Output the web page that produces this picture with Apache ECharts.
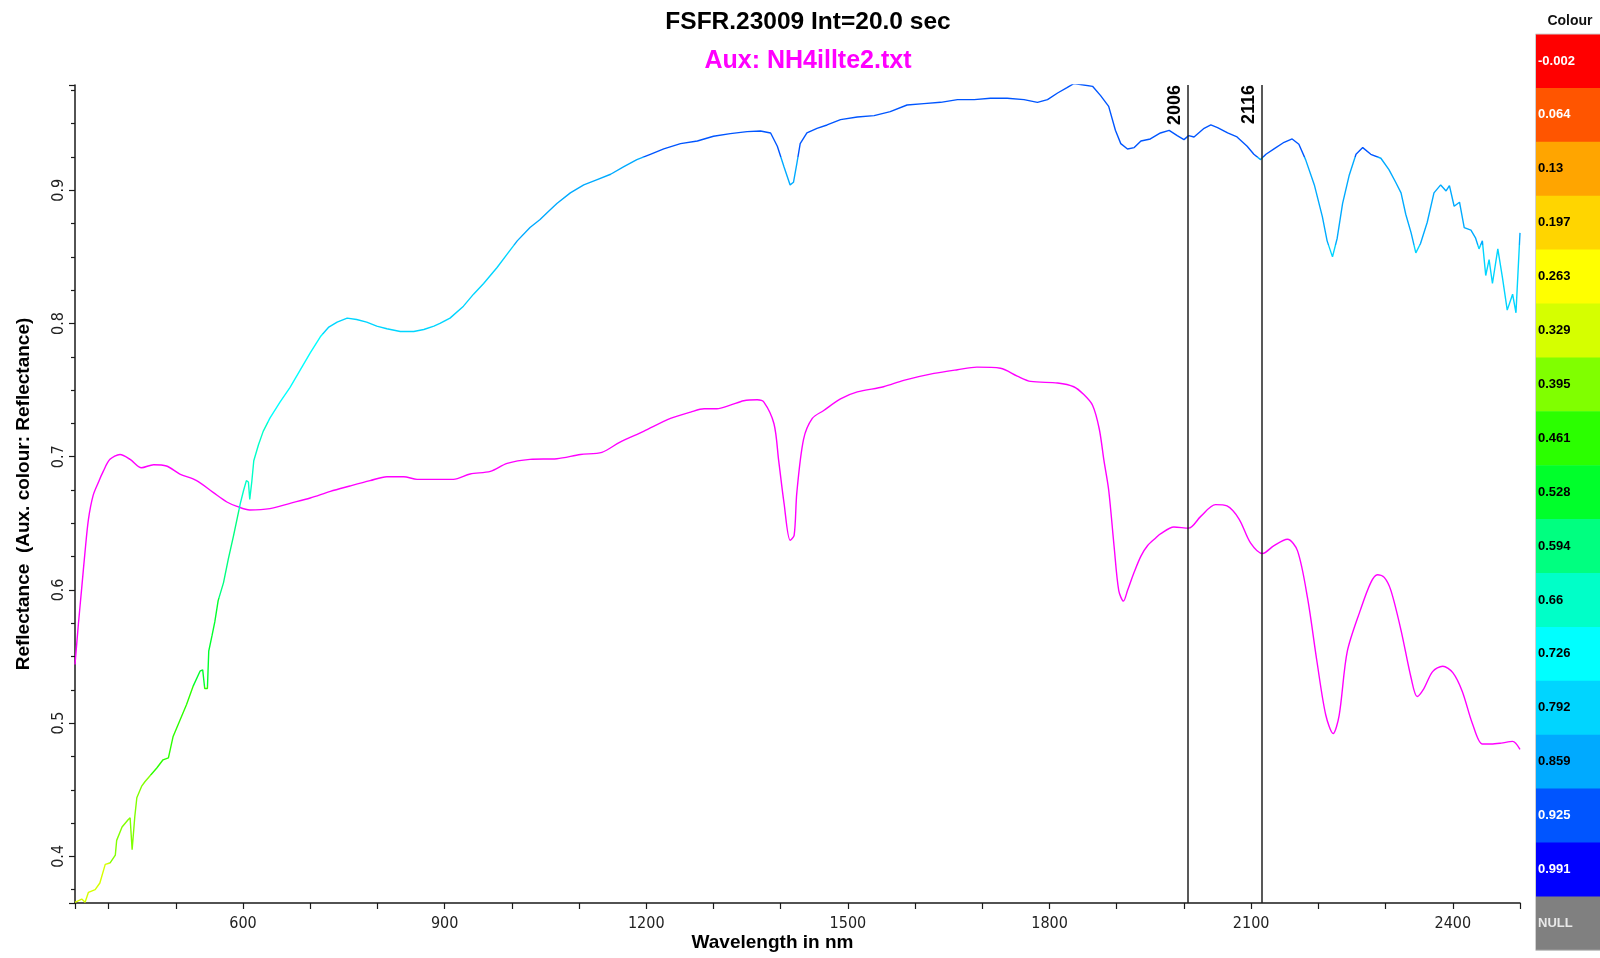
<!DOCTYPE html>
<html><head><meta charset="utf-8">
<script src="https://cdn.jsdelivr.net/npm/echarts@6/dist/echarts.min.js"></script>
<style>html,body{margin:0;padding:0;background:#fff}#c{width:1600px;height:958px}</style>
</head><body><div id="c"></div>
<script>
// ---------------- data ----------------
const mainNm = [350,360,365,370,380,387,395,402,410,412,420,429,432,435,439,442,449,454,472,481,489,496,506,516,526,536,540,543,547,549,554,558,563,571,578,586,591,596,601,605,608,610,613,616,623,630,640,655,670,685,700,715,727,740,755,769,784,799,814,834,854,869,884,893,908,928,943,958,978,993,1008,1027,1042,1052,1067,1087,1107,1127,1147,1166,1186,1206,1226,1251,1276,1300,1325,1350,1370,1385,1395,1405,1414,1419,1424,1429,1439,1454,1469,1489,1514,1539,1563,1588,1613,1638,1663,1688,1712,1737,1762,1782,1797,1812,1826,1836,1851,1864,1876,1888,1898,1906,1916,1926,1936,1950,1965,1978,1990,2000,2007,2015,2030,2040,2050,2065,2079,2094,2104,2114,2122,2134,2149,2161,2171,2181,2194,2206,2213,2221,2228,2236,2246,2256,2266,2278,2293,2305,2315,2323,2330,2338,2345,2352,2362,2372,2382,2390,2395,2402,2410,2417,2427,2434,2439,2444,2449,2454,2459,2467,2474,2481,2489,2494,2500];
const mainRefl = [0.3655,0.368,0.3655,0.373,0.375,0.380,0.394,0.395,0.401,0.412,0.422,0.4275,0.429,0.405,0.430,0.444,0.4525,0.456,0.4665,0.4725,0.474,0.490,0.502,0.514,0.528,0.539,0.540,0.526,0.526,0.554,0.566,0.576,0.592,0.6055,0.623,0.641,0.653,0.665,0.675,0.682,0.681,0.668,0.681,0.697,0.709,0.719,0.729,0.741,0.752,0.765,0.778,0.790,0.797,0.801,0.804,0.803,0.801,0.798,0.796,0.794,0.794,0.7955,0.798,0.800,0.804,0.813,0.822,0.830,0.842,0.852,0.862,0.872,0.878,0.883,0.890,0.898,0.904,0.908,0.912,0.9175,0.923,0.927,0.931,0.935,0.937,0.9405,0.9425,0.944,0.9445,0.943,0.933,0.9175,0.904,0.906,0.920,0.935,0.943,0.9465,0.949,0.953,0.955,0.956,0.959,0.964,0.965,0.966,0.968,0.968,0.969,0.969,0.968,0.966,0.968,0.973,0.977,0.980,0.979,0.978,0.971,0.963,0.945,0.935,0.931,0.932,0.937,0.9385,0.943,0.945,0.941,0.938,0.941,0.940,0.9465,0.949,0.947,0.943,0.940,0.933,0.927,0.923,0.927,0.931,0.936,0.9385,0.9345,0.923,0.904,0.880,0.862,0.850,0.864,0.890,0.9115,0.927,0.932,0.927,0.924,0.9155,0.906,0.898,0.882,0.868,0.853,0.860,0.876,0.898,0.904,0.8995,0.9035,0.888,0.891,0.872,0.870,0.864,0.856,0.862,0.836,0.848,0.830,0.856,0.834,0.810,0.822,0.808,0.868];

const auxNm = [350,355,360,365,370,377,385,392,402,417,432,449,467,486,506,531,556,576,591,610,640,670,700,730,759,789,814,839,859,880,913,938,968,993,1027,1067,1102,1134,1161,1196,1236,1266,1286,1305,1325,1345,1365,1375,1390,1397,1405,1414,1420,1424,1434,1447,1464,1489,1514,1553,1583,1628,1663,1692,1727,1752,1772,1812,1836,1851,1864,1874,1881,1888,1896,1903,1910,1916,1926,1936,1946,1958,1965,1985,2007,2025,2047,2064,2082,2099,2117,2134,2154,2169,2184,2198,2211,2222,2231,2243,2263,2278,2288,2298,2308,2323,2338,2347,2357,2370,2385,2400,2414,2429,2444,2457,2472,2489,2500];
const auxRefl = [0.544,0.574,0.6015,0.629,0.653,0.671,0.681,0.689,0.698,0.7017,0.698,0.6917,0.694,0.693,0.687,0.682,0.673,0.666,0.6627,0.660,0.661,0.665,0.669,0.674,0.678,0.682,0.685,0.685,0.683,0.683,0.683,0.687,0.689,0.695,0.698,0.6985,0.7017,0.7033,0.711,0.719,0.7287,0.7335,0.736,0.736,0.7387,0.742,0.7427,0.741,0.7247,0.697,0.665,0.6373,0.641,0.673,0.713,0.7287,0.7347,0.7434,0.7486,0.7525,0.7573,0.7625,0.7653,0.7672,0.7664,0.7605,0.7565,0.7553,0.7525,0.7466,0.7386,0.7208,0.697,0.675,0.633,0.5995,0.5916,0.5995,0.6134,0.6254,0.6333,0.639,0.642,0.6472,0.6464,0.6552,0.664,0.663,0.6532,0.6353,0.6273,0.6333,0.638,0.6293,0.5936,0.5459,0.5061,0.4922,0.5061,0.5538,0.5856,0.6055,0.6114,0.6094,0.5995,0.5697,0.5339,0.520,0.526,0.5387,0.5427,0.5379,0.524,0.500,0.4843,0.4843,0.485,0.4863,0.4803];

const markerNm = [2006, 2116];

const colourThresholds = [-0.002,0.064,0.13,0.197,0.263,0.329,0.395,0.461,0.528,0.594,0.66,0.726,0.792,0.859,0.925,0.991];
const colourLabels = ['-0.002','0.064','0.13','0.197','0.263','0.329','0.395','0.461','0.528','0.594','0.66','0.726','0.792','0.859','0.925','0.991','NULL'];

const titleText = 'FSFR.23009 Int=20.0 sec';
const subTitleText = 'Aux: NH4illte2.txt';
const xName = 'Wavelength in nm';
const yName = 'Reflectance  (Aux. colour: Reflectance)';

// ---------------- styles ----------------
const colourFills = ['#FF0000','#FF5500','#FFA500','#FFD500','#FFFF00','#D5FF00','#80FF00','#2BFF00','#00FF2B','#00FF80','#00FFC8','#00FFFF','#00D5FF','#00AAFF','#0055FF','#0000FF','#808080'];
const labelInk = ['#fff','#fff','#000','#000','#000','#000','#000','#000','#000','#000','#000','#000','#000','#000','#fff','#fff','#e8e8e8'];
const SANS = "'Liberation Sans', Arial, sans-serif";
const NARROW = "'Liberation Sans Narrow', 'Arial Narrow', 'DejaVu Sans Condensed', 'Liberation Sans', sans-serif";

const pieces = colourThresholds.map((t, i) => {
  const p = { gte: t, color: colourFills[i] };
  if (i < colourThresholds.length - 1) p.lt = colourThresholds[i + 1];
  return p;
});

// legend column (graphic)
const cellTop = 34, cellH = 53.9, cellX = 1536, cellW = 64;
const legendGraphics = [];
colourLabels.forEach((lab, i) => {
  legendGraphics.push({ type: 'rect', silent: true,
    shape: { x: cellX, y: cellTop + i * cellH, width: cellW, height: cellH + 0.5 },
    style: { fill: colourFills[i] } });
  legendGraphics.push({ type: 'text', silent: true, z: 10,
    style: { x: cellX + 2, y: cellTop + i * cellH + cellH / 2, text: lab, fill: labelInk[i],
      font: "bold 13px " + SANS, align: 'left', verticalAlign: 'middle' } });
});
legendGraphics.push({ type: 'rect', silent: true, z: 11,
  shape: { x: cellX - 0.5, y: cellTop, width: cellW + 1, height: cellH * colourLabels.length },
  style: { fill: 'none', stroke: '#d0d0d0', lineWidth: 1 } });
legendGraphics.push({ type: 'text', silent: true,
  style: { x: 1570, y: 21, text: 'Colour', fill: '#111', font: "bold 14px " + SANS, align: 'center', verticalAlign: 'middle' } });
legendGraphics.push({ type: 'text', silent: true,
  style: { x: 808, y: 22, text: titleText, fill: '#000', font: "bold 24.5px " + SANS, align: 'center', verticalAlign: 'middle' } });
legendGraphics.push({ type: 'text', silent: true,
  style: { x: 808, y: 61, text: subTitleText, fill: '#FF00FF', font: "bold 25px " + SANS, align: 'center', verticalAlign: 'middle' } });

const chart = echarts.init(document.getElementById('c'));
chart.setOption({
  animation: false,
  backgroundColor: '#fff',
  grid: { left: 75, right: 80, top: 85, bottom: 55, containLabel: false, outerBoundsMode: 'none' },
  xAxis: {
    type: 'value', min: 350, max: 2500, minInterval: 100, maxInterval: 100,
    name: xName, nameLocation: 'middle', nameGap: 30, nameMoveOverlap: false,
    nameTextStyle: { fontFamily: SANS, fontWeight: 'bold', fontSize: 19, color: '#000', padding: [0, 50, 0, 0] },
    axisLine: { show: true, onZero: false, lineStyle: { color: '#1a1a1a', width: 1.5 } },
    axisTick: { show: true, inside: false, length: 6, lineStyle: { color: '#1a1a1a', width: 1.2 } },
    axisLabel: { margin: 13, color: '#222', fontFamily: NARROW, fontSize: 16,
      formatter: v => (Math.round(v) % 300 === 0 ? String(Math.round(v)) : '') },
    splitLine: { show: false }
  },
  yAxis: {
    type: 'value', min: 0.365, max: 0.979, minInterval: 0.1, maxInterval: 0.1,
    name: yName, nameLocation: 'middle', nameGap: 42, nameMoveOverlap: false,
    nameTextStyle: { fontFamily: SANS, fontWeight: 'bold', fontSize: 19, color: '#000' },
    axisLine: { show: true, onZero: false, lineStyle: { color: '#1a1a1a', width: 1.5 } },
    axisTick: { show: true, inside: false, length: 6, lineStyle: { color: '#1a1a1a', width: 1.2 } },
    minorTick: { show: true, splitNumber: 4, length: 4, lineStyle: { color: '#1a1a1a', width: 1.2 } },
    axisLabel: { rotate: 90, margin: 8, color: '#222', fontFamily: NARROW, fontSize: 16,
      showMinLabel: false, showMaxLabel: false,
      formatter: v => { const r = Math.round(v * 10) / 10; return Math.abs(v - r) < 1e-6 ? r.toFixed(1) : ''; } },
    splitLine: { show: false }, minorSplitLine: { show: false }
  },
  visualMap: {
    type: 'piecewise', show: false, seriesIndex: 0, dimension: 1, pieces: pieces
  },
  series: [
    { name: 'FSFR.23009', type: 'line', showSymbol: false, symbol: 'none', smooth: false,
      lineStyle: { width: 1.4 }, z: 3,
      data: mainNm.map((x, i) => [x, mainRefl[i]]) },
    { name: 'Aux', type: 'line', showSymbol: false, symbol: 'none', smooth: 0.3,
      lineStyle: { width: 1.4, color: '#FF00FF' }, itemStyle: { color: '#FF00FF' }, z: 2,
      data: auxNm.map((x, i) => [x, auxRefl[i]]),
      markLine: {
        silent: true, symbol: ['none', 'none'], animation: false,
        lineStyle: { color: '#222', width: 1.5, type: 'solid' },
        label: { show: true, position: 'insideEndTop', formatter: p => String(p.value),
          fontFamily: SANS, fontWeight: 'bold', fontSize: 18, color: '#000', distance: [0, 4] },
        emphasis: { disabled: true },
        data: markerNm.map(v => ({ xAxis: v }))
      } }
  ],
  graphic: legendGraphics
});
</script></body></html>
